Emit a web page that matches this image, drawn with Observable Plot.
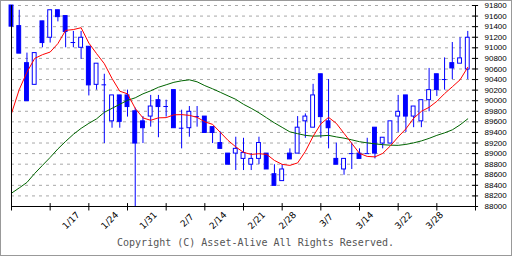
<!DOCTYPE html>
<html><head><meta charset="utf-8">
<script src="https://cdn.jsdelivr.net/npm/d3@7"></script>
<script src="https://cdn.jsdelivr.net/npm/@observablehq/plot@0.6"></script>
<style>html,body{margin:0;padding:0;background:#fff}</style>
</head><body><div id="chart"></div>
<script>
// ---- data ----
const openP = [91800, 91410, 90710, 90300, 91500, 91190, 91710, 91600, 91100, 91000,
  91020, 90300, 90300, 89610, 90100, 90100, 89800, 89610, 89700, 90010,
  89890, 90200, 89480, 89480, 89700, 89700, 89500, 89200, 89000, 89000,
  88900, 88790, 88900, 89000, 88610, 88480, 89000, 89000, 89610, 89490,
  90500, 89610, 88900, 88700, 89000, 89000, 89000, 89490, 89190, 89190,
  89700, 90100, 89700, 89610, 90010, 90500, 90400, 90710, 90700, 90590];
const highP = [91800, 91710, 90900, 90900, 91500, 91710, 91710, 91600, 91310, 91310,
  91020, 90700, 90500, 90100, 90100, 90200, 89860, 89700, 90100, 90100,
  90010, 90200, 89820, 89890, 89890, 89700, 89500, 89410, 89000, 89310,
  89290, 89000, 89310, 89000, 88790, 88790, 89090, 89700, 89750, 90310,
  90500, 90400, 89200, 88900, 89200, 89090, 89290, 89490, 89300, 89610,
  90100, 90100, 89890, 90010, 90610, 90500, 90810, 91100, 91190, 91310];
const lowP = [91400, 90890, 89990, 90300, 91000, 91090, 91490, 91000, 91000, 90780,
  90090, 90200, 89190, 89480, 89480, 89690, 88000, 89190, 89500, 89300,
  89690, 89480, 89090, 89310, 89500, 89390, 89190, 89090, 88790, 88680,
  88680, 88680, 88790, 88700, 88390, 88480, 88890, 89000, 89290, 89490,
  89290, 89090, 88790, 88590, 88700, 88900, 89000, 88900, 89090, 89190,
  89400, 89400, 89490, 89490, 89790, 90080, 90200, 90400, 90700, 90400];
const closeP = [91400, 90890, 89990, 90900, 91090, 91710, 91580, 91300, 91100, 91190,
  90290, 90700, 90300, 90100, 89600, 89880, 89190, 89480, 89890, 89880,
  89890, 89480, 89480, 89790, 89700, 89390, 89390, 89090, 88790, 89090,
  89010, 88900, 89200, 88700, 88390, 88700, 88890, 89490, 89700, 90100,
  89690, 89480, 88790, 88900, 89000, 88900, 89000, 89000, 89300, 89610,
  89790, 89700, 89890, 90010, 90200, 90200, 90400, 90610, 90800, 91190];
const maShort = [89760, 90210, 90540, 90800, 90870, 90920, 91080, 91330, 91345, 91380,
  91090, 90890, 90700, 90420, 90180, 90130, 89855, 89675, 89630, 89676,
  89680, 89733, 89737, 89723, 89686, 89600, 89553, 89402, 89250, 89127,
  89023, 88985, 88998, 88985, 88871, 88796, 88777, 88824, 89042, 89326,
  89562, 89685, 89572, 89383, 89193, 89004, 88947, 88938, 89004, 89146,
  89316, 89468, 89667, 89799, 89875, 89988, 90134, 90263, 90395, 90632];
const maLong = [88252, 88351, 88455, 88625, 88777, 88928, 89089, 89231, 89364, 89477,
  89572, 89657, 89780, 89856, 89932, 90007, 90055, 90130, 90187, 90254,
  90301, 90348, 90376, 90395, 90357, 90285, 90225, 90159, 90092, 90026,
  89932, 89856, 89771, 89676, 89581, 89496, 89411, 89377, 89345, 89330,
  89335, 89345, 89316, 89292, 89260, 89225, 89203, 89184, 89169, 89159,
  89156, 89174, 89203, 89240, 89288, 89345, 89392, 89449, 89543, 89657];
const xLabels = ["1/17", "1/24", "1/31", "2/7", "2/14", "2/21", "2/28", "3/7", "3/14", "3/22", "3/28"];
const xLabelIdx = [7, 12, 17, 22, 26, 31, 35, 40, 45, 50, 54];
const xTickIdx = [0, 5, 10, 15, 20, 25, 30, 35, 40, 45, 50, 55, 60];
const yTickValues = [88000, 88200, 88400, 88600, 88800, 89000, 89200, 89400, 89600, 89800,
  90000, 90200, 90400, 90600, 90800, 91000, 91200, 91400, 91600, 91800];
const copyright = "Copyright (C) Asset-Alive All Rights Reserved.";

// ---- build tables ----
const candles = openP.map((o, i) => ({i, o, h: highP[i], l: lowP[i], c: closeP[i]}));
const bodies = candles.filter(d => d.o !== d.c);
const dojis = candles.filter(d => d.o === d.c);
const shortLine = maShort.map((v, i) => ({i, v}));
const longLine = maLong.map((v, i) => ({i, v}));
const labelData = xLabels.map((t, k) => ({t, i: xLabelIdx[k]}));

const blue = "#0000ff";
const hw = 0.25;
const lastX = 60;

const chart = Plot.plot({
  width: 512,
  height: 256,
  marginLeft: 11,
  marginRight: 37,
  marginTop: 5,
  marginBottom: 50,
  x: {type: "linear", domain: [0, 60], axis: null},
  y: {type: "linear", domain: [88000, 91800], axis: null},
  style: {background: "#fff", overflow: "visible"},
  marks: [
    // dashed horizontal grid
    Plot.ruleY(yTickValues.slice(1), {x1: 0, x2: lastX, stroke: "#a8a8a8", strokeDasharray: "3,4", strokeWidth: 1}),
    // wicks
    Plot.ruleX(candles, {x: "i", y1: "l", y2: "h", stroke: blue, strokeWidth: 1}),
    // bodies
    Plot.rect(bodies, {
      x1: d => d.i - hw, x2: d => d.i + hw, y1: "o", y2: "c",
      fill: d => d.c < d.o ? blue : "#ffffff", stroke: blue, strokeWidth: 1
    }),
    // doji bars
    Plot.ruleY(dojis, {y: "o", x1: d => d.i - 0.3, x2: d => d.i + 0.3, stroke: blue, strokeWidth: 1}),
    // moving averages
    Plot.line(longLine, {x: "i", y: "v", stroke: "#006400", strokeWidth: 1}),
    Plot.line(shortLine, {x: "i", y: "v", stroke: "#ff0000", strokeWidth: 1}),
    // frame lines
    Plot.ruleX([0], {y1: 88000, y2: 91800, stroke: "#000"}),
    Plot.ruleX([lastX], {y1: 87950, y2: 91800, stroke: "#000"}),
    Plot.ruleY([88000], {x1: 0, x2: lastX, stroke: "#000"}),
    // y ticks crossing the right axis
    Plot.ruleY(yTickValues, {x1: lastX - 0.4, x2: lastX + 0.4, stroke: "#000"}),
    Plot.text(yTickValues, {x: lastX, y: d => d, text: d => String(d), dx: 9, textAnchor: "start",
      fontSize: 8, fontFamily: "Liberation Sans", fill: "#000"}),
    // x ticks crossing the bottom axis
    Plot.ruleX(xTickIdx, {y1: 87915, y2: 88055, stroke: "#000"}),
    Plot.text(labelData, {x: "i", frameAnchor: "bottom", text: "t", rotate: -45, dx: 7.5, dy: 16,
      fontSize: 9, fontFamily: "DejaVu Sans", fill: "#000"}),
    // copyright
    Plot.text([copyright], {frameAnchor: "bottom", text: d => d, dx: 12, dy: 39.5,
      fontSize: 10, fontFamily: "DejaVu Sans Mono", fill: "#555"})
  ]
});

const ns = "http://www.w3.org/2000/svg";
const border = document.createElementNS(ns, "rect");
border.setAttribute("x", 0.5); border.setAttribute("y", 0.5);
border.setAttribute("width", 511); border.setAttribute("height", 255);
border.setAttribute("fill", "none"); border.setAttribute("stroke", "#999");
chart.appendChild(border);
document.getElementById("chart").appendChild(chart);
</script>
</body></html>
